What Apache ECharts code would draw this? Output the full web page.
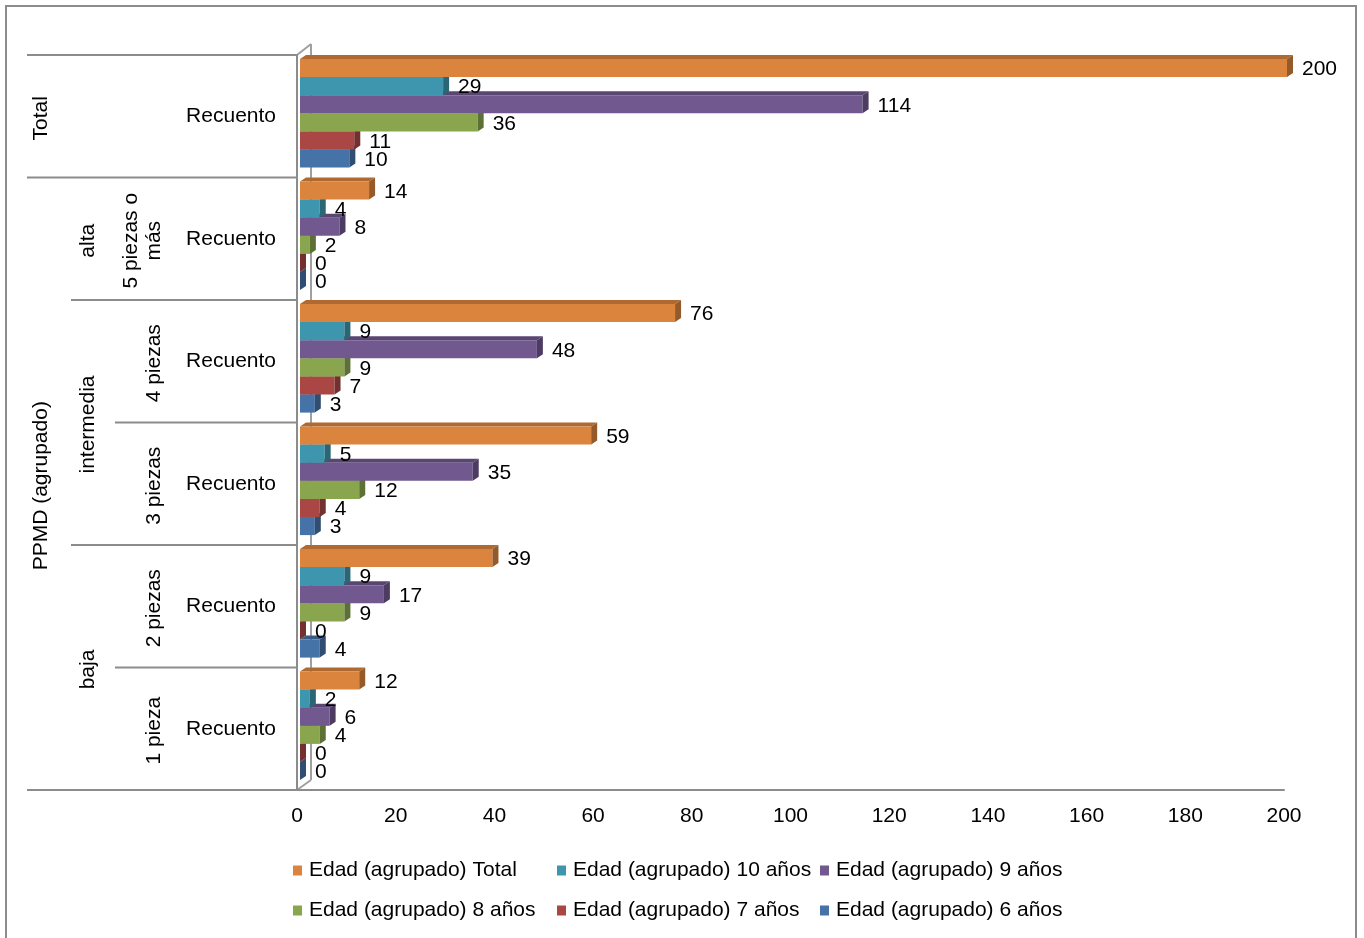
<!DOCTYPE html>
<html>
<head>
<meta charset="utf-8">
<script src="https://cdn.jsdelivr.net/npm/echarts@6/dist/echarts.min.js"></script>
<style>
  html, body { margin: 0; padding: 0; background: #fff; }
  #main { width: 1364px; height: 938px; }
</style>
</head>
<body>
<div id="main"></div>
<script>
// categories (top to bottom)
const rowLabels = ['Recuento', 'Recuento', 'Recuento', 'Recuento', 'Recuento', 'Recuento'];
const level3 = ['', '5 piezas o\nmás', '4 piezas', '3 piezas', '2 piezas', '1 pieza'];
const level2 = [['alta', 1, 2], ['intermedia', 2, 4], ['baja', 4, 6]];
const level1 = [['Total', 0, 1], ['PPMD (agrupado)', 1, 6]];

const seriesNames = [
  'Edad (agrupado) Total',
  'Edad (agrupado) 10 años',
  'Edad (agrupado) 9 años',
  'Edad (agrupado) 8 años',
  'Edad (agrupado) 7 años',
  'Edad (agrupado) 6 años'
];
const valTotal = [200, 14, 76, 59, 39, 12];
const val10 = [29, 4, 9, 5, 9, 2];
const val9 = [114, 8, 48, 35, 17, 6];
const val8 = [36, 2, 9, 12, 9, 4];
const val7 = [11, 0, 7, 4, 0, 0];
const val6 = [10, 0, 3, 3, 4, 0];
const allValues = [valTotal, val10, val9, val8, val7, val6];

const colors = ['#DB843D', '#3D96AE', '#71588F', '#89A54E', '#AA4643', '#4572A7'];
const FONT = 'Liberation Sans, Arial, sans-serif';

// layout
const G_LEFT = 297, G_TOP = 55, G_W = 987, G_H = 735;
const BAND = G_H / 6;
const BAR_H = 18.1, DX = 6, DY = 4;

function shade(hex, f) {
  const n = parseInt(hex.slice(1), 16);
  const r = Math.round(((n >> 16) & 255) * f);
  const g = Math.round(((n >> 8) & 255) * f);
  const b = Math.round((n & 255) * f);
  return 'rgb(' + r + ',' + g + ',' + b + ')';
}

function makeRender(k) {
  return function (params, api) {
    const v = api.value(0);
    const cat = api.value(1);
    const p0 = api.coord([0, cat]);
    const p1 = api.coord([v, cat]);
    const band = api.size([0, 1])[1];
    const top = p0[1] - band / 2 + 4 + k * BAR_H;
    const x0 = p0[0] + 3, x1 = p1[0] + 3;
    const c = colors[k];
    return {
      type: 'group',
      children: [
        { type: 'polygon', shape: { points: [[x0, top], [x1, top], [x1 + DX, top - DY], [x0 + DX, top - DY]] },
          style: { fill: shade(c, 0.8) } },
        { type: 'rect', shape: { x: x0, y: top, width: x1 - x0, height: BAR_H },
          style: { fill: c } },
        { type: 'polygon', shape: { points: [[x1, top], [x1 + DX, top - DY], [x1 + DX, top + BAR_H - DY], [x1, top + BAR_H]] },
          style: { fill: shade(c, 0.68) } },
        { type: 'text', x: x1 + DX + 9, y: top + BAR_H / 2 + 1.5,
          style: { text: String(v), fontSize: 21, fontFamily: FONT, fill: '#000', verticalAlign: 'middle' } }
      ]
    };
  };
}

const series = allValues.map(function (vals, k) {
  return {
    name: seriesNames[k],
    type: 'custom',
    z: 20 - k,
    itemStyle: { color: colors[k] },
    encode: { x: 0, y: 1 },
    renderItem: makeRender(k),
    data: vals.map(function (v, i) { return [v, i]; })
  };
});

// left hierarchy graphics
const graphics = [];
const lineStyle = { stroke: '#8c8c8c', lineWidth: 2 };
graphics.push({ type: 'rect', shape: { x: 6, y: 6, width: 1350, height: 950 },
  style: { fill: null, stroke: '#8c8c8c', lineWidth: 2 }, z: 0 });

for (let i = 0; i <= 6; i++) {
  let x = 115;
  if (level1.some(function (g) { return g[1] === i || g[2] === i; })) x = 27;
  else if (level2.some(function (g) { return g[1] === i || g[2] === i; })) x = 71;
  const y = G_TOP + i * BAND;
  graphics.push({ type: 'line', shape: { x1: x, y1: y, x2: G_LEFT, y2: y }, style: lineStyle, z: 1 });
}

// back wall
const wall = { stroke: '#a0a0a0', lineWidth: 2 };
graphics.push({ type: 'line', shape: { x1: G_LEFT + 14, y1: G_TOP - 11, x2: G_LEFT + 14, y2: G_TOP + G_H - 10 }, style: wall, z: 0 });
graphics.push({ type: 'line', shape: { x1: G_LEFT, y1: G_TOP, x2: G_LEFT + 14, y2: G_TOP - 11 }, style: wall, z: 0 });
graphics.push({ type: 'line', shape: { x1: G_LEFT, y1: G_TOP + G_H, x2: G_LEFT + 14, y2: G_TOP + G_H - 10 }, style: wall, z: 0 });

function vText(txt, x, y) {
  graphics.push({ type: 'text', x: x, y: y, rotation: Math.PI / 2, z: 5,
    style: { text: txt, fontSize: 21, fontFamily: FONT, fill: '#000', align: 'center', verticalAlign: 'middle', lineHeight: 23 } });
}
level1.forEach(function (g) { vText(g[0], 41.5, G_TOP + (g[1] + g[2]) / 2 * BAND + 2); });
level2.forEach(function (g) { vText(g[0], 88.5, G_TOP + (g[1] + g[2]) / 2 * BAND + 2); });
level3.forEach(function (t, i) {
  if (!t) return;
  vText(t, t.indexOf('\n') >= 0 ? 142.5 : 154.5, G_TOP + (i + 0.5) * BAND + 2);
});

const legendBase = {
  orient: 'vertical',
  top: 855,
  itemGap: 19,
  icon: 'rect',
  itemWidth: 9,
  itemHeight: 10,
  selectedMode: false,
  textStyle: { fontSize: 21, fontFamily: FONT, color: '#000', padding: [0, 0, 0, 2] }
};

const option = {
  animation: false,
  backgroundColor: '#fff',
  textStyle: { fontFamily: FONT },
  grid: { left: G_LEFT, top: G_TOP, width: G_W, height: G_H },
  legend: [
    Object.assign({ left: 288, data: [seriesNames[0], seriesNames[3]] }, legendBase),
    Object.assign({ left: 552, data: [seriesNames[1], seriesNames[4]] }, legendBase),
    Object.assign({ left: 815, data: [seriesNames[2], seriesNames[5]] }, legendBase)
  ],
  xAxis: {
    type: 'value', min: 0, max: 200, interval: 20,
    axisLine: { show: true, lineStyle: { color: '#8c8c8c', width: 2 } },
    axisTick: { show: false },
    splitLine: { show: false },
    axisLabel: { fontSize: 21, color: '#000', margin: 16, fontFamily: FONT }
  },
  yAxis: {
    type: 'category', inverse: true, data: rowLabels,
    axisLine: { show: true, lineStyle: { color: '#8c8c8c', width: 2 } },
    axisTick: { show: false },
    axisLabel: { fontSize: 21, color: '#000', margin: 21, fontFamily: FONT, padding: [4, 0, 0, 0] }
  },
  graphic: graphics,
  series: series
};

const myChart = echarts.init(document.getElementById('main'));
myChart.setOption(option);
</script>
</body>
</html>
